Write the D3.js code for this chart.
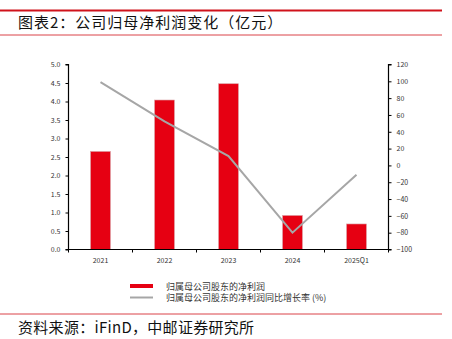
<!DOCTYPE html>
<html>
<head>
<meta charset="utf-8">
<script src="https://cdn.jsdelivr.net/npm/d3@7"></script>
<style>
  html, body { margin: 0; padding: 0; background: #fff; }
  svg { display: block; }
  text { font-family: "Noto Sans CJK SC", "Noto Sans", sans-serif; }
</style>
</head>
<body>
<svg id="chart" width="452" height="339"></svg>
<script>
// Net profit attributable to parent (亿元) and its YoY growth (%)
const categories = ["2021", "2022", "2023", "2024", "2025Q1"];
const netProfit = [2.65, 4.04, 4.48, 0.92, 0.69];
const growthRate = [99, 52.5, 11, -80, -11];
const leftTicks = [0, 0.5, 1, 1.5, 2, 2.5, 3, 3.5, 4, 4.5, 5];
const rightTicks = [-100, -80, -60, -40, -20, 0, 20, 40, 60, 80, 100, 120];
const seriesNames = ["归属母公司股东的净利润", "归属母公司股东的净利润同比增长率 (%)"];

const svg = d3.select("#chart");
const red = "#e60012";
const gray = "#a6a6a6";
const frameRed = "#d0121b";

// Header and footer rules
svg.append("line").attr("x1", 0).attr("x2", 442).attr("y1", 10.5).attr("y2", 10.5)
  .attr("stroke", frameRed).attr("stroke-width", 2);
svg.append("line").attr("x1", 0).attr("x2", 442).attr("y1", 35).attr("y2", 35)
  .attr("stroke", frameRed).attr("stroke-width", 0.8);
svg.append("text").attr("x", 18).attr("y", 28)
  .attr("font-size", 15).attr("fill", "#111").attr("letter-spacing", 1)
  .text("图表2：公司归母净利润变化（亿元）");

svg.append("line").attr("x1", 0).attr("x2", 442).attr("y1", 314).attr("y2", 314)
  .attr("stroke", frameRed).attr("stroke-width", 0.8);
svg.append("text").attr("x", 18).attr("y", 333)
  .attr("font-size", 15).attr("fill", "#111").attr("letter-spacing", 0.3)
  .text("资料来源：iFinD，中邮证券研究所");

// Plot area
const x0 = 68.5, x1 = 388.5, yTop = 64.5, yBot = 249.5;

const x = d3.scaleBand().domain(categories).range([x0, x1]).paddingInner(0.69).paddingOuter(0.345);
const xb = d3.scaleBand().domain(categories).range([x0, x1]);
const yL = d3.scaleLinear().domain([0, 5]).range([yBot, yTop]);
const yR = d3.scaleLinear().domain([-100, 120]).range([yBot, yTop]);

// Bars
svg.append("g").selectAll("rect").data(categories).join("rect")
  .attr("x", d => x(d))
  .attr("width", x.bandwidth())
  .attr("y", (d, i) => yL(netProfit[i]))
  .attr("height", (d, i) => yBot - yL(netProfit[i]))
  .attr("fill", red)
  .attr("stroke", "#d9a0a4").attr("stroke-width", 0.6);

// Growth line
const line = d3.line()
  .x((d, i) => xb(categories[i]) + xb.bandwidth() / 2)
  .y(d => yR(d));
svg.append("path").datum(growthRate)
  .attr("d", line)
  .attr("fill", "none").attr("stroke", gray).attr("stroke-width", 2);

// Axes
const tickFont = g => g.selectAll("text").attr("font-family", "Liberation Sans, Arial, sans-serif")
  .attr("font-size", 7).attr("fill", "#333");

const leftAxis = svg.append("g").attr("transform", `translate(${x0},0)`)
  .call(d3.axisLeft(yL).tickValues(leftTicks).tickFormat(d3.format(".1f")).tickSize(3).tickPadding(5));
leftAxis.call(tickFont);

const rightAxis = svg.append("g").attr("transform", `translate(${x1},0)`)
  .call(d3.axisRight(yR).tickValues(rightTicks).tickFormat(d3.format("d")).tickSize(3).tickPadding(5));
rightAxis.call(tickFont);

const bottomAxis = svg.append("g").attr("transform", `translate(0,${yBot})`)
  .call(d3.axisBottom(xb).tickSize(0).tickPadding(9));
bottomAxis.call(tickFont);
// boundary ticks between categories
bottomAxis.selectAll("line.sep").data(d3.range(categories.length + 1)).join("line")
  .attr("class", "sep")
  .attr("x1", i => x0 + i * xb.step()).attr("x2", i => x0 + i * xb.step())
  .attr("y1", 0).attr("y2", 3).attr("stroke", "#000");

[leftAxis, rightAxis, bottomAxis].forEach(g => {
  g.select(".domain").attr("stroke", "#000").attr("stroke-width", 1.2);
  g.selectAll(".tick line").attr("stroke", "#000");
});
leftAxis.select(".domain").attr("d", `M-3,${yTop}H0V${yBot}H-3`);
rightAxis.select(".domain").attr("d", `M3,${yTop}H0V${yBot}H3`);
bottomAxis.select(".domain").attr("d", `M${x0},0H${x1}`);

// Legend
const lg = svg.append("g").attr("font-size", 9).attr("fill", "#333");
lg.append("rect").attr("x", 130).attr("y", 284).attr("width", 23).attr("height", 4).attr("fill", red);
lg.append("line").attr("x1", 130).attr("x2", 153).attr("y1", 297.5).attr("y2", 297.5)
  .attr("stroke", gray).attr("stroke-width", 2);
lg.selectAll("text").data(seriesNames).join("text")
  .attr("x", 166).attr("y", (d, i) => 289.5 + i * 11.5)
  .attr("fill", "#333")
  .text(d => d);
</script>
</body>
</html>
